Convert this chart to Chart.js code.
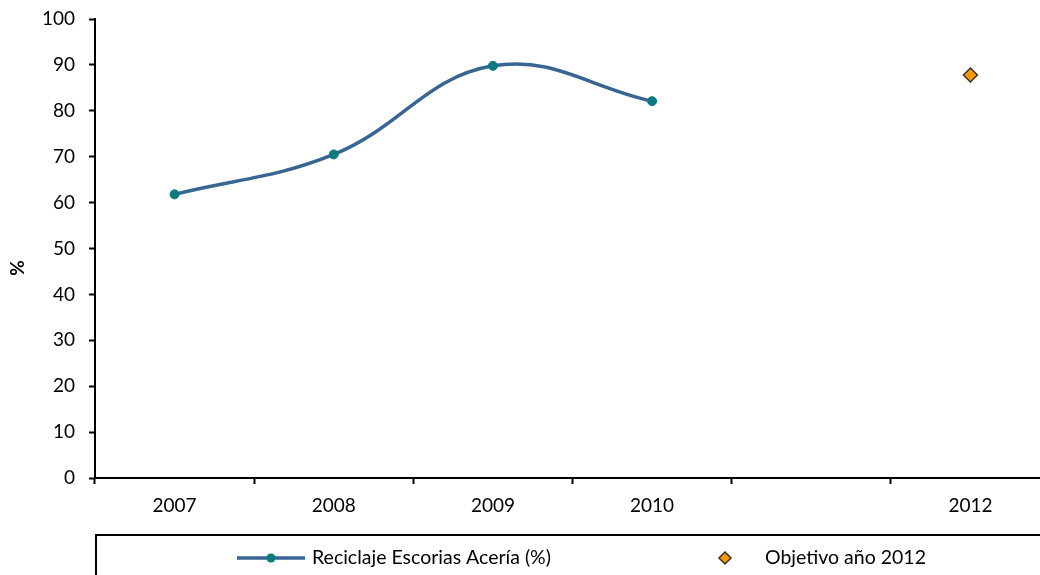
<!DOCTYPE html>
<html>
<head>
<meta charset="utf-8">
<script src="https://cdn.jsdelivr.net/npm/chart.js@4/dist/chart.umd.min.js"></script>
<style>
  html, body { margin: 0; padding: 0; background: #fff; overflow: hidden; }
</style>
</head>
<body>
<canvas id="my-chart" width="1060" height="575"></canvas>
<script>
const years = ['2007', '2008', '2009', '2010', '', '2012'];
const reciclaje = [61.8, 70.5, 89.8, 82.1, null, null];
const objetivo = [null, null, null, null, null, 87.8];
const yTicks = [0, 10, 20, 30, 40, 50, 60, 70, 80, 90, 100];

const FONT = 'Lato, "Open Sans", sans-serif';

// legend in a box under the plot, plus the rotated "%" title
const boxLegendPlugin = {
  id: 'boxLegend',
  afterDraw(chart) {
    const ctx = chart.ctx;
    const ds = chart.data.datasets;
    const y = 558;
    ctx.save();
    ctx.lineWidth = 2;
    ctx.strokeStyle = '#000';
    ctx.strokeRect(96, 535, 1000, 60);

    // series 1 : line with dot
    ctx.beginPath();
    ctx.moveTo(237, y);
    ctx.lineTo(305, y);
    ctx.lineWidth = ds[0].borderWidth;
    ctx.strokeStyle = ds[0].borderColor;
    ctx.stroke();
    ctx.beginPath();
    ctx.arc(271, y, 4.5, 0, Math.PI * 2);
    ctx.fillStyle = ds[0].pointBackgroundColor;
    ctx.fill();

    // series 2 : diamond
    ctx.beginPath();
    ctx.moveTo(725, y - 6);
    ctx.lineTo(731, y);
    ctx.lineTo(725, y + 6);
    ctx.lineTo(719, y);
    ctx.closePath();
    ctx.fillStyle = ds[1].pointBackgroundColor;
    ctx.fill();
    ctx.lineWidth = 1.5;
    ctx.strokeStyle = ds[1].pointBorderColor;
    ctx.stroke();

    ctx.fillStyle = '#000';
    ctx.font = '19.5px ' + FONT;
    ctx.textAlign = 'left';
    ctx.textBaseline = 'middle';
    ctx.fillText(ds[0].label, 312, y);
    ctx.fillText(ds[1].label, 765, y);

    // y title
    ctx.translate(18, 268);
    ctx.rotate(-Math.PI / 2);
    ctx.font = 'bold 19px ' + FONT;
    ctx.textAlign = 'center';
    ctx.fillText('%', 0, 0);
    ctx.restore();
  }
};

const chartCanvas = document.getElementById('my-chart');

new Chart(chartCanvas, {
  type: 'line',
  data: {
    labels: years,
    datasets: [
      {
        label: 'Reciclaje Escorias Acería (%)',
        data: reciclaje,
        borderColor: '#386592',
        borderWidth: 3.5,
        tension: 0.4,
        pointRadius: 4.5,
        pointBackgroundColor: '#0a7b7f',
        pointBorderColor: '#0a7b7f',
        pointBorderWidth: 1,
        spanGaps: false
      },
      {
        label: 'Objetivo año 2012',
        data: objetivo,
        showLine: false,
        pointStyle: 'rectRot',
        pointRadius: 7,
        pointBackgroundColor: '#ff9900',
        pointBorderColor: '#333333',
        pointBorderWidth: 1.5
      }
    ]
  },
  options: {
    responsive: false,
    animation: false,
    layout: { padding: { top: 19, right: 10, left: 0, bottom: 0 } },
    plugins: {
      legend: { display: false },
      tooltip: { enabled: false }
    },
    scales: {
      x: {
        offset: true,
        afterFit: scale => {
          scale.height = 97;
          scale.paddingLeft = 0;
          scale.paddingRight = 0;
        },
        grid: {
          offset: true,
          drawOnChartArea: false,
          drawTicks: true,
          tickLength: 6,
          tickWidth: 2,
          tickColor: '#000'
        },
        border: { display: true, color: '#000', width: 2 },
        ticks: {
          color: '#000',
          padding: 10,
          maxRotation: 0,
          autoSkip: false,
          font: { family: FONT, size: 19 }
        }
      },
      y: {
        min: 0,
        max: 100,
        afterFit: scale => {
          scale.width = 95;
          scale.paddingTop = 0;
          scale.paddingBottom = 0;
        },
        afterBuildTicks: scale => { scale.ticks = yTicks.map(v => ({ value: v })); },
        grid: {
          drawOnChartArea: false,
          drawTicks: true,
          tickLength: 6,
          tickWidth: 2,
          tickColor: '#000'
        },
        border: { display: true, color: '#000', width: 2 },
        ticks: {
          color: '#000',
          padding: 14,
          font: { family: FONT, size: 19 }
        }
      }
    }
  },
  plugins: [boxLegendPlugin]
});
</script>
</body>
</html>
